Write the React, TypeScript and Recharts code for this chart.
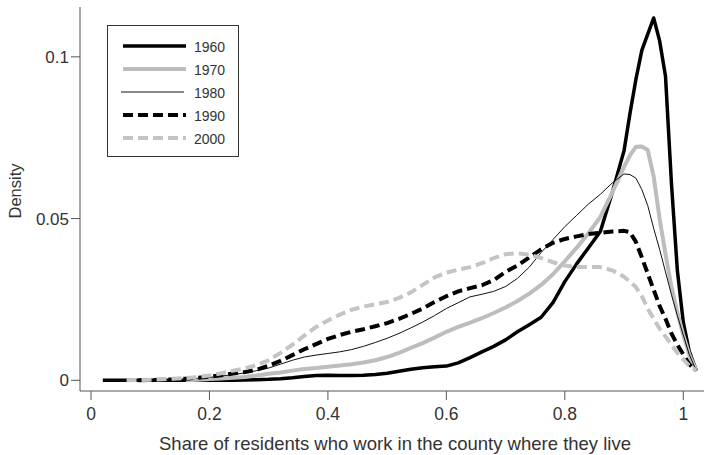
import { LineChart, Line, XAxis, YAxis, Label } from 'recharts';

// x grid of the density estimates (finer near the peaks)
const xs = [
  0.02, 0.04, 0.06, 0.08, 0.1, 0.12, 0.14, 0.16, 0.18, 0.2, 0.22, 0.24,
  0.26, 0.28, 0.3, 0.32, 0.34, 0.36, 0.38, 0.4, 0.42, 0.44, 0.46, 0.48,
  0.5, 0.52, 0.54, 0.56, 0.58, 0.6, 0.62, 0.64, 0.66, 0.68, 0.7, 0.72,
  0.74, 0.76, 0.78, 0.8, 0.82, 0.84, 0.86, 0.88,
  0.9, 0.91, 0.92, 0.93, 0.94, 0.95, 0.96, 0.97, 0.98, 0.99, 1.0, 1.01, 1.022,
];

const d1960 = [
  0, 0, 0, 0, 0, 0, 0, 0, 0, 0, 0, 0,
  0.0001, 0.0002, 0.0003, 0.0005, 0.0008, 0.0012, 0.0015, 0.0016, 0.0015, 0.0015, 0.0016, 0.0018,
  0.0022, 0.0028, 0.0034, 0.0039, 0.0042, 0.0044, 0.0054, 0.007, 0.0088, 0.0105, 0.0125, 0.015,
  0.0172, 0.0195, 0.024, 0.0305, 0.036, 0.041, 0.046, 0.058,
  0.071, 0.0825, 0.093, 0.102, 0.107, 0.112, 0.105, 0.094, 0.061, 0.034, 0.018, 0.009, 0.003,
];

const d1970 = [
  null, null, null, null, null, null, null, 0, 0.0002, 0.0004, 0.0006, 0.0008,
  0.001, 0.0015, 0.002, 0.0024, 0.003, 0.0035, 0.0038, 0.0042, 0.0046, 0.005, 0.0055, 0.0062,
  0.0072, 0.0085, 0.01, 0.0115, 0.0132, 0.015, 0.0165, 0.0178, 0.0192, 0.0208, 0.0225, 0.0245,
  0.0268, 0.0295, 0.0328, 0.0368, 0.041, 0.0455, 0.0505, 0.058,
  0.066, 0.0695, 0.0722, 0.0723, 0.0712, 0.063, 0.05, 0.039, 0.029, 0.021, 0.014, 0.008, 0.003,
];

const d1980 = [
  0, 0, 0, 0, 0, 0, 0.0001, 0.0003, 0.0006, 0.0009, 0.0013, 0.0018,
  0.0023, 0.003, 0.0038, 0.005, 0.0062, 0.0072, 0.0078, 0.0083, 0.0088, 0.0095, 0.0105, 0.0117,
  0.013, 0.0145, 0.0162, 0.018, 0.02, 0.0222, 0.024, 0.0258, 0.0266, 0.0275, 0.029, 0.0315,
  0.035, 0.0395, 0.0435, 0.0475, 0.051, 0.0545, 0.0575, 0.061,
  0.0638, 0.0636, 0.0625, 0.059, 0.054, 0.047, 0.0405, 0.0335, 0.0265, 0.02, 0.014, 0.008, 0.003,
];

const d1990 = [
  null, null, null, 0, 0.0001, 0.0002, 0.0003, 0.0005, 0.0008, 0.0011, 0.0016, 0.0021,
  0.0026, 0.0033, 0.0045, 0.006, 0.0078, 0.0096, 0.0112, 0.0128, 0.014, 0.015, 0.0158, 0.0167,
  0.0177, 0.019, 0.0205, 0.0222, 0.0242, 0.026, 0.0275, 0.0285, 0.0294, 0.031, 0.0335, 0.0355,
  0.038, 0.0405, 0.0425, 0.0437, 0.0445, 0.0452, 0.0456, 0.046,
  0.0462, 0.0458, 0.0428, 0.038, 0.033, 0.028, 0.023, 0.019, 0.0145, 0.011, 0.008, 0.005, 0.003,
];

const d2000 = [
  null, null, 0, 0.0001, 0.0002, 0.0003, 0.0005, 0.0007, 0.001, 0.0015, 0.0022, 0.003,
  0.0037, 0.0048, 0.0062, 0.0085, 0.011, 0.0138, 0.0165, 0.0185, 0.0203, 0.0218, 0.0228, 0.0235,
  0.0242, 0.0255, 0.0272, 0.0295, 0.0318, 0.0333, 0.0342, 0.035, 0.0362, 0.0378, 0.039, 0.0393,
  0.0388, 0.0378, 0.0365, 0.0355, 0.035, 0.035, 0.035, 0.034,
  0.032, 0.0305, 0.0288, 0.026, 0.0222, 0.019, 0.016, 0.0135, 0.011, 0.0085, 0.0065, 0.0045, 0.003,
];

const years = ['1960', '1970', '1980', '1990', '2000'];
const xTicks = [0, 0.2, 0.4, 0.6, 0.8, 1];
const yTicks = [0, 0.05, 0.1];

const data = xs.map((x, i) => ({
  x,
  y1960: d1960[i],
  y1970: d1970[i],
  y1980: d1980[i],
  y1990: d1990[i],
  y2000: d2000[i],
}));

const lineStyles: Record<string, any> = {
  '1960': { stroke: '#000', strokeWidth: 3.5 },
  '1970': { stroke: '#bdbdbd', strokeWidth: 4 },
  '1980': { stroke: '#111', strokeWidth: 1 },
  '1990': { stroke: '#000', strokeWidth: 4, strokeDasharray: '10 5' },
  '2000': { stroke: '#c4c4c4', strokeWidth: 4, strokeDasharray: '10 5' },
};

const font = '"Liberation Sans", Arial, Helvetica, sans-serif';
const textColor = '#333';
const axisColor = '#555';

function LegendBox() {
  return (
    <div
      style={{
        position: 'absolute',
        left: 107,
        top: 25,
        width: 132,
        height: 132,
        boxSizing: 'border-box',
        border: '1px solid #333',
        background: '#fff',
      }}
    >
      <svg width={130} height={130}>
        {years.map((y, i) => {
          const cy = 20 + i * 23;
          const s = lineStyles[y];
          return (
            <g key={y}>
              <line x1={i === 2 ? 13 : 15} x2={i === 2 ? 76 : 78} y1={cy} y2={cy} {...s} />
              <text x={86} y={cy + 1} dominantBaseline="central" fontSize={14} fill={textColor} fontFamily={font}>
                {y}
              </text>
            </g>
          );
        })}
      </svg>
    </div>
  );
}

export default function App() {
  return (
    <div style={{ position: 'relative', width: 709, height: 455, background: '#fff' }}>
      <style>{'body{margin:0}'}</style>
      <LineChart width={709} height={455} data={data} margin={{ top: 7, right: 5, bottom: 0, left: 0 }}>
        <XAxis
          dataKey="x"
          type="number"
          domain={[-0.0186, 1.035]}
          allowDataOverflow
          ticks={xTicks}
          tickFormatter={(v: number) => String(v)}
          height={64}
          tickSize={9}
          tickMargin={8}
          stroke={axisColor}
          tick={{ fontSize: 17.5, fill: textColor, fontFamily: font }}
        >
          <Label
            value="Share of residents who work in the county where they live"
            position="insideBottom"
            offset={5}
            dx={3}
            style={{ fontSize: 18.5, fill: textColor, fontFamily: font }}
          />
        </XAxis>
        <YAxis
          type="number"
          domain={[-0.0033, 0.1154]}
          allowDataOverflow
          ticks={yTicks}
          tickFormatter={(v: number) => String(v)}
          width={80}
          tickSize={9}
          tickMargin={2}
          stroke={axisColor}
          tick={{ fontSize: 17, fill: textColor, fontFamily: font }}
        >
          <Label
            content={(props: any) => {
              const vb = props.viewBox || { x: 0, y: 7, width: 80, height: 384 };
              const cx = vb.x + 15;
              const cy = vb.y + vb.height / 2 - 8;
              return (
                <text
                  x={cx}
                  y={cy}
                  transform={`rotate(-90, ${cx}, ${cy})`}
                  textAnchor="middle"
                  dominantBaseline="central"
                  fontSize={16.5}
                  fill={textColor}
                  fontFamily={font}
                >
                  Density
                </text>
              );
            }}
          />
        </YAxis>
        {years.map((y) => (
          <Line
            key={y}
            type="linear"
            dataKey={`y${y}`}
            dot={false}
            activeDot={false}
            isAnimationActive={false}
            strokeLinejoin="round"
            {...lineStyles[y]}
          />
        ))}
      </LineChart>
      <LegendBox />
    </div>
  );
}
